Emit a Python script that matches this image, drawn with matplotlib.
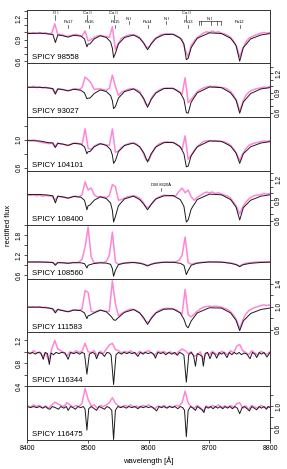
import matplotlib
matplotlib.use("Agg")
import matplotlib.pyplot as plt
import numpy as np

plt.rcParams['font.family'] = ['Liberation Sans', 'DejaVu Sans']

# stars, top to bottom
stars = ["SPICY 98558", "SPICY 93027", "SPICY 104101", "SPICY 108400",
         "SPICY 108560", "SPICY 111583", "SPICY 116344", "SPICY 116475"]

# ---- observed spectra (pink), read every 5 A ----
wl_obs = np.arange(8400, 8801, 5)

obs_98558 = [1.00, .99, 1.00, .985, 1.00, .99, .995, .98, .99, 1.12,
             .97, .975, .96, .945, .955, .965, .975, .96, .95, 1.02,
             .88, .90, .93, .95, .96, .95, .945, .93, 1.08, .76,
             .85, .92, .94, .96, .97, .965, .955, .93, .87, .80,
             .79, .86, .91, .94, .97, .975, .985, .98, .975, .96,
             .935, .90, .76, .66, .82, .88, .93, .96, .99, 1.01,
             1.0, 1.02, 1.0, 1.01, .99, .98, .96, .93, .88, .80,
             .66, .78, .86, .92, .94, .96, .975, .99, 1.0, .99,
             1.0]
obs_93027 = [.99, .985, 1.0, .98, .99, .975, .985, .97, .965, .90,
             .96, .955, .95, .935, .94, .955, .965, .95, .98, 1.14,
             1.10, 1.05, .95, .96, .96, .95, .94, .97, 1.17, 1.0,
             .86, .91, .93, .95, .965, .96, .95, .92, .84, .73,
             .72, .83, .89, .93, .955, .97, .975, .97, .965, .95,
             .92, .88, 1.13, .75, .80, .86, .92, .95, .975, .99,
             1.0, .995, 1.0, .99, .98, .975, .955, .92, .86, .78,
             .62, .76, .86, .91, .94, .955, .97, .975, .99, .98,
             1.0]
obs_104101 = [1.0, .99, 1.0, .985, .97, .96, .955, .945, .96, .90,
              .955, .94, .935, .92, .93, .95, .955, .945, .93, 1.16,
              .88, .86, .91, .935, .945, .94, .925, .92, 1.16, .82,
              .84, .89, .92, .94, .955, .95, .94, .90, .83, .72,
              .70, .80, .88, .93, .955, .965, .975, .965, .96, .945,
              .91, .86, 1.06, .72, .78, .85, .90, .94, .975, .985,
              .99, .985, .99, .98, .975, .97, .95, .92, .87, .80,
              .70, .80, .87, .92, .94, .955, .965, .975, .985, .98,
              .99]
obs_108400 = [.975, .97, .98, .965, .975, .96, .97, .965, .96, .90,
              .955, .95, .945, .935, .94, .955, .96, .95, .98, 1.17,
              1.05, 1.08, .98, .95, .955, .95, .94, .97, 1.13, 1.10,
              .90, .91, .93, .95, .96, .965, .955, .93, .88, .81,
              .79, .85, .91, .94, .96, .975, .97, .965, .96, .97,
              1.03, 1.08, 1.01, 1.05, .95, .90, .94, .97, 1.0, 1.02,
              1.01, 1.02, 1.0, 1.01, .99, .975, .96, .93, .87, .80,
              .70, .80, .87, .92, .95, .97, .975, .985, 1.0, .99,
              1.0]
obs_108560 = [1.0, .995, 1.0, .99, 1.0, .995, 1.0, .99, .99, .93,
              .985, .98, .975, .965, .97, .985, .98, 1.0, 1.08, 1.45,
              2.05, 1.15, .97, .98, .985, .98, 1.02, 1.2, 1.9, 1.0,
              .93, .96, .97, .98, .99, .985, .98, .97, .95, .91,
              .90, .94, .965, .98, .99, .995, 1.0, .995, 1.0, 1.01,
              1.05, 1.2, 1.75, .98, .93, .96, .97, .985, .995, 1.0,
              1.01, 1.0, 1.005, 1.0, .995, .99, .98, .965, .95, .92,
              .88, .93, .96, .975, .985, .995, 1.0, 1.005, 1.0, 1.01,
              1.0]
obs_111583 = [1.0, .99, 1.0, .99, 1.0, .985, .99, .975, .97, .91,
              .955, .94, .93, .915, .92, .94, .945, .94, .96, 1.28,
              1.25, .92, .90, .925, .935, .93, .915, .92, 1.45, 1.05,
              .84, .88, .91, .94, .955, .95, .93, .89, .82, .74,
              .73, .82, .88, .92, .95, .965, .97, .97, .96, .945,
              .91, .87, 1.30, .86, .82, .87, .92, .96, .99, 1.0,
              1.01, 1.0, 1.01, 1.0, .99, .97, .95, .91, .85, .76,
              .62, .76, .87, .93, .96, .985, 1.0, 1.02, 1.03, 1.02,
              1.03]
obs_116344 = [1.0, .97, 1.02, .98, 1.0, .92, .98, .85, 1.05, 1.2,
              1.05, 1.02, .99, .93, 1.0, .98, 1.02, .99, 1.01, 1.15,
              1.0, .99, 1.02, .93, 1.01, .97, 1.05, 1.12, 1.15, 1.04,
              1.02, .98, 1.01, .99, 1.02, .98, .96, 1.01, .98, 1.0,
              1.02, .98, .94, 1.01, .99, 1.01, .97, 1.0, .98, .96,
              1.01, 1.05, 1.02, .97, 1.0, .92, .95, 1.0, .86, .99,
              .95, 1.01, .97, .94, 1.01, .99, .95, 1.02, .98, 1.1,
              1.13, 1.02, .99, .95, 1.02, .98, .94, 1.01, .98, .96,
              1.0]
obs_116475 = [1.0, .98, 1.02, .99, 1.01, .97, 1.0, .96, 1.02, 1.07,
              1.04, 1.01, .99, 1.06, 1.02, .98, 1.01, .99, 1.05, 1.32,
              1.12, 1.0, 1.02, .96, 1.01, .99, 1.02, 1.06, 1.15, 1.05,
              1.0, .98, 1.01, .99, 1.02, .98, 1.0, .97, 1.01, .99,
              1.02, .98, .95, 1.0, .98, 1.01, .97, 1.0, .98, 1.01,
              1.0, 1.06, 1.27, 1.05, .99, .96, 1.01, .97, .91, 1.0,
              .97, 1.01, .98, 1.02, .97, 1.0, .98, 1.01, .97, 1.04,
              1.06, .96, 1.0, .94, 1.01, .98, .96, 1.01, .98, .97,
              .99]

# ---- model spectra (black) ----
wl_mod_hot = [8400, 8420, 8435, 8442, 8446, 8450, 8458, 8467, 8476, 8488,
              8494, 8498, 8500, 8503, 8510, 8520, 8530, 8537, 8540, 8542,
              8545, 8550, 8560, 8575, 8585, 8592, 8598, 8604, 8612, 8625,
              8640, 8652, 8658, 8662, 8665, 8670, 8680, 8700, 8720, 8735,
              8744, 8750, 8756, 8768, 8785, 8800]
mod_98558 = [.985, .99, .98, .97, .86, .965, .955, .935, .96, .95,
             .91, .80, .84, .84, .91, .955, .93, .87, .78, .65,
             .71, .84, .93, .965, .92, .85, .76, .84, .92, .97,
             .975, .92, .84, .62, .64, .79, .92, .995, .985, .92,
             .82, .60, .79, .91, .965, .985]
mod_93027 = [.985, .985, .975, .965, .88, .96, .95, .93, .955, .94,
             .90, .81, .82, .82, .89, .945, .92, .86, .78, .66,
             .69, .82, .92, .96, .90, .81, .68, .80, .90, .965,
             .97, .90, .80, .60, .59, .76, .90, .99, .98, .90,
             .79, .59, .76, .89, .96, .98]
mod_104101 = [.99, .985, .96, .955, .89, .95, .94, .92, .95, .94,
              .90, .80, .83, .83, .90, .945, .92, .86, .78, .66,
              .70, .83, .92, .955, .90, .81, .68, .80, .90, .96,
              .965, .90, .80, .61, .62, .77, .90, .985, .98, .91,
              .81, .66, .80, .90, .955, .975]
mod_108400 = [.985, .985, .975, .965, .86, .96, .95, .93, .955, .945,
              .90, .76, .82, .83, .90, .95, .925, .86, .75, .58,
              .66, .82, .92, .96, .91, .84, .76, .84, .92, .965,
              .97, .91, .81, .58, .61, .77, .91, .99, .98, .91,
              .80, .61, .79, .90, .96, .98]
mod_108560 = [1.0, 1.0, .99, .985, .90, .98, .975, .96, .98, .975,
              .95, .82, .90, .92, .955, .975, .965, .93, .80, .57,
              .75, .92, .965, .985, .96, .93, .88, .93, .965, .99,
              .99, .96, .90, .62, .74, .90, .965, 1.0, .995, .96,
              .92, .86, .92, .96, .985, .995]
mod_111583 = [.99, .99, .975, .96, .89, .95, .93, .91, .94, .93,
              .89, .79, .84, .85, .89, .94, .91, .84, .80, .77,
              .76, .81, .90, .95, .89, .80, .69, .79, .89, .955,
              .96, .89, .78, .66, .63, .75, .89, .98, .975, .89,
              .76, .58, .75, .88, .95, .975]

wl_mod_116344 = [8400, 8404, 8408, 8413, 8417, 8422, 8426, 8429, 8433, 8436,
                 8439, 8443, 8447, 8452, 8456, 8462, 8467, 8471, 8476, 8481,
                 8486, 8490, 8494, 8498, 8502, 8507, 8511, 8514, 8518, 8523,
                 8527, 8531, 8535, 8538, 8542, 8546, 8550, 8555, 8559, 8564,
                 8568, 8572, 8577, 8582, 8586, 8591, 8594, 8599, 8604, 8608,
                 8611, 8615, 8620, 8624, 8628, 8633, 8638, 8643, 8647, 8651,
                 8655, 8658, 8662, 8666, 8670, 8674, 8677, 8680, 8684, 8688,
                 8690, 8693, 8697, 8701, 8705, 8709, 8712, 8716, 8720, 8724,
                 8729, 8733, 8737, 8741, 8745, 8749, 8753, 8757, 8762, 8767,
                 8771, 8775, 8778, 8782, 8786, 8790, 8795, 8800]
mod_116344 = [.99, .97, .99, .96, .99, .98, .87, .99, .97, .78,
              .98, .95, .99, .97, .99, .98, .87, .99, .97, .99,
              .96, .99, .97, .61, .96, .99, .97, .88, .99, .97,
              .92, .99, .98, .94, .43, .95, .99, .96, .99, .97,
              .99, .97, .99, .92, .99, .96, .99, .97, .99, .96,
              .89, .99, .97, .99, .95, .99, .96, .99, .94, .99,
              .97, .94, .47, .95, .99, .93, .75, .97, .95, .92,
              .75, .97, .99, .88, .99, .96, .89, .99, .96, .99,
              .90, .99, .95, .99, .96, .99, .95, .98, .96, .88,
              .99, .96, .90, .99, .96, .99, .91, .99]

wl_mod_116475 = [8400, 8405, 8410, 8415, 8420, 8425, 8430, 8434, 8437, 8441,
                 8446, 8451, 8455, 8460, 8464, 8467, 8471, 8475, 8479, 8483,
                 8488, 8492, 8495, 8498, 8501, 8505, 8509, 8514, 8518, 8522,
                 8527, 8531, 8535, 8539, 8542, 8545, 8549, 8554, 8558, 8563,
                 8567, 8572, 8577, 8582, 8586, 8591, 8595, 8600, 8604, 8608,
                 8613, 8617, 8621, 8625, 8630, 8634, 8639, 8643, 8648, 8652,
                 8656, 8659, 8662, 8665, 8669, 8673, 8677, 8680, 8684, 8688,
                 8691, 8694, 8698, 8702, 8706, 8710, 8714, 8718, 8722, 8726,
                 8730, 8734, 8738, 8742, 8746, 8750, 8754, 8758, 8762, 8766,
                 8770, 8774, 8778, 8782, 8786, 8790, 8794, 8797, 8800]
mod_116475 = [.99, .97, .99, .97, .99, .96, .99, .95, .94, .99,
              .97, .94, .99, .96, .99, .92, .99, .97, .94, .99,
              .97, .99, .94, .56, .95, .99, .96, .92, .99, .97,
              .94, .99, .97, .92, .39, .92, .99, .97, .99, .96,
              .99, .97, .99, .95, .99, .97, .99, .97, .99, .96,
              .91, .99, .97, .99, .96, .99, .97, .99, .95, .99,
              .97, .92, .44, .92, .99, .96, .92, .99, .96, .93,
              .88, .99, .96, .99, .95, .99, .96, .99, .95, .99,
              .96, .99, .95, .99, .96, .86, .97, .99, .95, .91,
              .99, .96, .93, .99, .96, .99, .94, .99, .97]

obs_all = [obs_98558, obs_93027, obs_104101, obs_108400,
           obs_108560, obs_111583, obs_116344, obs_116475]
mod_wl_all = [wl_mod_hot] * 6 + [wl_mod_116344, wl_mod_116475]
mod_all = [mod_98558, mod_93027, mod_104101, mod_108400,
           mod_108560, mod_111583, mod_116344, mod_116475]

# ---- line identifications (top panel) ----
ca_names = ["O I", "Ca II", "Ca II", "Ca II"]
ca_wl = [8446, 8498, 8542, 8662]
pa_names = ["Pa17", "Pa16", "Pa15", "Pa14", "Pa13", "Pa12"]
pa_wl = [8467, 8502, 8545, 8598, 8665, 8750]
ni_wl = [8567, 8629]
ni_multi_wl = [8683, 8686, 8703, 8712, 8719]
dib_wl = 8620

# ---- axes per panel ----
ylims = [(0.57, 1.32), (0.53, 1.35), (0.55, 1.33), (0.54, 1.33),
         (0.5, 2.12), (0.55, 1.49), (0.4, 1.34), (0.38, 1.36)]
yticks = [[0.6, 0.7, 0.8, 0.9, 1.0, 1.1, 1.2, 1.3],
          [0.6, 0.7, 0.8, 0.9, 1.0, 1.1, 1.2, 1.3],
          [0.6, 0.8, 1.0, 1.2],
          [0.6, 0.7, 0.8, 0.9, 1.0, 1.1, 1.2, 1.3],
          [0.6, 0.9, 1.2, 1.5, 1.8, 2.1],
          [0.6, 0.8, 1.0, 1.2, 1.4],
          [0.4, 0.6, 0.8, 1.0, 1.2],
          [0.6, 0.8, 1.0, 1.2]]
ylabeled = [[0.6, 0.9, 1.2], [0.6, 0.9, 1.2], [0.6, 1.0], [0.6, 0.9, 1.2],
            [0.6, 1.2, 1.8], [0.6, 1.0, 1.4], [0.4, 0.8, 1.2], [0.6, 1.0]]

pink = '#ff85d8'
edge = '#333333'

fig = plt.figure(figsize=(2.87, 4.69), dpi=100)
gs = fig.add_gridspec(8, 1, left=0.0958, right=0.9408, top=0.9797,
                      bottom=0.0618, hspace=0)

for i in range(8):
    ax = fig.add_subplot(gs[i])
    ax.plot(wl_obs, obs_all[i], color=pink, lw=1.1)
    ax.plot(mod_wl_all[i], mod_all[i], color='#1a1a1a', lw=0.7)
    ax.set_xlim(8400, 8800)
    ax.set_ylim(*ylims[i])

    labs = []
    for t in yticks[i]:
        labs.append(f"{t:.1f}" if any(abs(t - l) < 1e-6 for l in ylabeled[i]) else "")
    ax.set_yticks(yticks[i])
    ax.set_yticklabels(labs)
    if i % 2 == 1:
        ax.tick_params(axis='y', left=False, right=True,
                       labelleft=False, labelright=True)
        plt.setp(ax.get_yticklabels(), rotation=90, va='center', ha='left')
    else:
        plt.setp(ax.get_yticklabels(), rotation=90, va='center', ha='right')
    ax.tick_params(axis='y', length=2.2, width=0.6, labelsize=4.8, pad=1.5,
                   color=edge)

    if i == 7:
        ax.set_xticks([8400, 8500, 8600, 8700, 8800])
        ax.tick_params(axis='x', length=2.2, width=0.6, labelsize=5, pad=1.5,
                       color=edge)
    else:
        ax.set_xticks([])

    for s in ax.spines.values():
        s.set_linewidth(0.7)
        s.set_color(edge)

    ax.text(0.018, 0.035, stars[i], transform=ax.transAxes, fontsize=5.6,
            ha='left', va='bottom')

    if i == 0:
        fs = 3.0
        for name, w in zip(ca_names, ca_wl):
            ax.text(w, 1.265, name, fontsize=fs, ha='center', va='center')
            ax.plot([w, w], [1.24, 1.18], color='k', lw=0.4)
        for name, w in zip(pa_names, pa_wl):
            ax.text(w, 1.14, name, fontsize=fs, ha='center', va='center')
            ax.plot([w, w], [1.11, 1.06], color='k', lw=0.4)
        for w in ni_wl:
            ax.text(w, 1.19, "N I", fontsize=fs, ha='center', va='center')
            ax.plot([w, w], [1.16, 1.115], color='k', lw=0.4)
        ax.plot([ni_multi_wl[0], ni_multi_wl[-1]], [1.157, 1.157], color='k', lw=0.4)
        for w in ni_multi_wl:
            ax.plot([w, w], [1.157, 1.11], color='k', lw=0.4)
        ax.text(np.mean([ni_multi_wl[0], ni_multi_wl[-1]]), 1.19, "N I",
                fontsize=fs, ha='center', va='center')
    if i == 3:
        ax.text(dib_wl, 1.09, "DIB 8620Å", fontsize=3.0, ha='center', va='bottom')
        ax.plot([dib_wl, dib_wl], [1.085, 1.03], color='k', lw=0.4)

fig.text(0.028, 0.52, "rectified flux", rotation=90, fontsize=5.5,
         ha='center', va='center')
fig.text(0.518, 0.017, "wavelength [Å]", fontsize=5.5, ha='center', va='center')

fig.savefig("out.png", dpi=100)
